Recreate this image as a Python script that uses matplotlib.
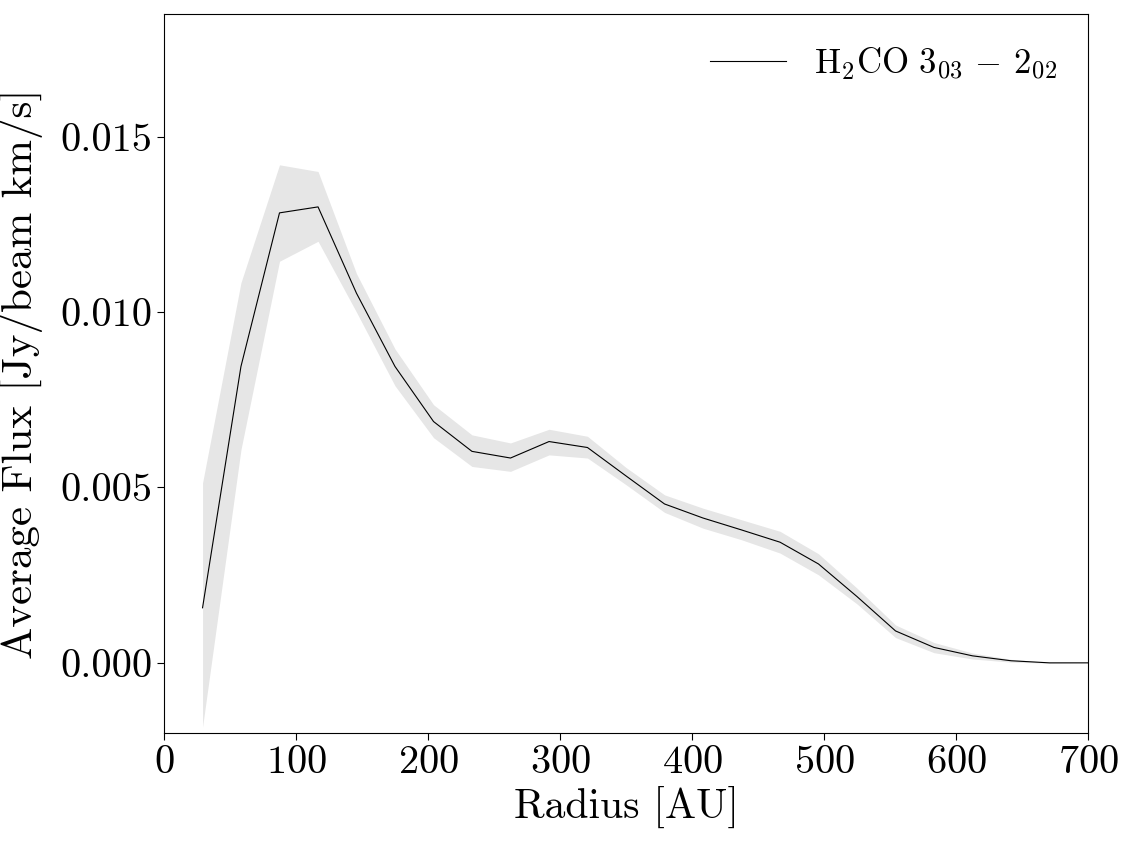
import matplotlib

matplotlib.use("Agg")
import matplotlib.pyplot as plt
import numpy as np

plt.rcParams["font.family"] = "cmr10"
plt.rcParams["mathtext.fontset"] = "cm"
plt.rcParams["axes.unicode_minus"] = False
plt.rcParams["axes.formatter.use_mathtext"] = True

radius = [29.2, 58.3, 87.5, 116.7, 145.8, 175.0, 204.2, 233.3, 262.5, 291.7,
          320.8, 350.0, 379.2, 408.3, 437.5, 466.7, 495.8, 525.0, 554.2, 583.3,
          612.5, 641.7, 670.8, 700.0]
flux = [0.00157, 0.00845, 0.01283, 0.01300, 0.01054, 0.00845, 0.00688, 0.00603,
        0.00584, 0.00631, 0.00614, 0.00533, 0.00453, 0.00413, 0.00379, 0.00344,
        0.00282, 0.00189, 0.00091, 0.00044, 0.00020, 0.00006, 0.0, 0.0]
flux_hi = [0.00513, 0.01084, 0.01420, 0.01401, 0.01110, 0.00895, 0.00736, 0.00650,
           0.00627, 0.00666, 0.00646, 0.00557, 0.00479, 0.00441, 0.00408, 0.00375,
           0.00311, 0.00213, 0.00108, 0.00058, 0.00028, 0.00010, 0.00001, 0.0]
flux_lo = [-0.00183, 0.00608, 0.01145, 0.01202, 0.01000, 0.00790, 0.00642, 0.00560,
           0.00546, 0.00593, 0.00584, 0.00508, 0.00429, 0.00384, 0.00351, 0.00313,
           0.00251, 0.00168, 0.00072, 0.00029, 0.00011, 0.00002, -0.00001, 0.0]

fig = plt.figure(figsize=(11.25, 8.48), dpi=100)
ax = fig.add_axes([164 / 1125, 1 - 733 / 848, 924 / 1125, 719 / 848])

ax.fill_between(radius, flux_lo, flux_hi, color="#e6e6e6", linewidth=0)
ax.plot(radius, flux, color="black", linewidth=0.8,
        label=r"$\mathrm{H_2CO}\ 3_{03}\,-\,2_{02}$")

ax.set_xlim(0, 700)
ax.set_ylim(-0.002, 0.0185)
ax.set_xticks(np.arange(0, 701, 100))
ax.set_yticks([0.0, 0.005, 0.010, 0.015])
ax.set_yticklabels(["0.000", "0.005", "0.010", "0.015"])
ax.tick_params(labelsize=29, length=5)
ax.set_xlabel("Radius [AU]", fontsize=30, labelpad=4)
ax.set_ylabel("Average Flux [Jy/beam km/s]", fontsize=31, labelpad=12)
ax.legend(loc="upper right", frameon=False, fontsize=25, handlelength=2.2,
          borderaxespad=0.5)

fig.savefig("out.png", dpi=100)
plt.close(fig)
